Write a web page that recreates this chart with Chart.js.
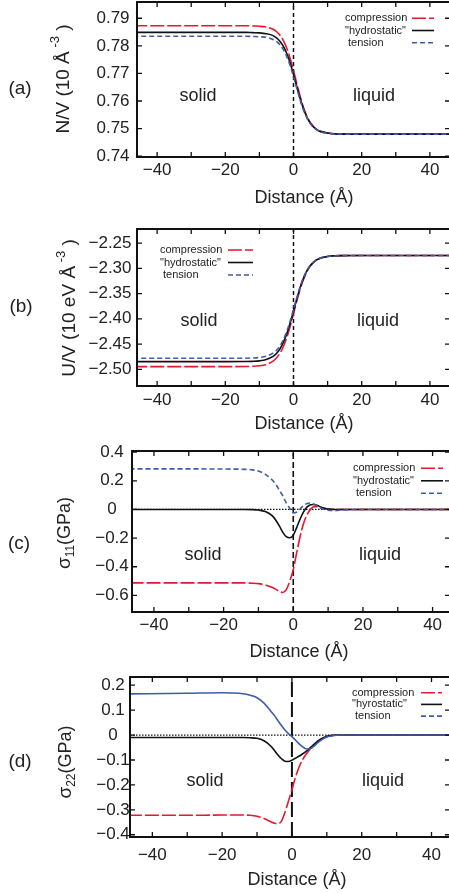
<!DOCTYPE html>
<html>
<head>
<meta charset="utf-8">
<script src="https://cdn.jsdelivr.net/npm/chart.js@4.4.1/dist/chart.umd.min.js"></script>
<style>
html,body{margin:0;padding:0;background:#fff;overflow:hidden;width:449px;height:893px}
.panel{position:absolute;left:0;width:450px}
canvas{display:block}
</style>
</head>
<body>
<div class="panel" style="top:0"><canvas id="pa" width="450" height="230"></canvas></div>
<div class="panel" style="top:215px"><canvas id="pb" width="450" height="230"></canvas></div>
<div class="panel" style="top:430px"><canvas id="pc" width="450" height="235"></canvas></div>
<div class="panel" style="top:645px"><canvas id="pd" width="450" height="248"></canvas></div>
<script>
// ── profile data: distance from the interface (Å) ─────────────────────────────
const distance=[-47,-30,-20,-14,-12,-10,-8,-6,-5,-4,-3,-2,-1,0,1,2,3,4,5,6,7,8,10,12,14,20,30,47];

// (a) number density N/V
const nvCompression=[.7873,.7873,.7873,.7873,.7872,.7871,.7868,.7860,.7852,.7839,.7820,.7792,.7755,.7711,.7662,.7615,.7574,.7543,.7521,.7506,.7496,.7490,.7484,.7481,.7481,.7480,.7480,.7480];
const nvHydrostatic=[.7849,.7849,.7849,.7849,.7848,.7847,.7844,.7837,.7829,.7817,.7799,.7773,.7739,.7696,.7651,.7607,.7569,.7540,.7518,.7504,.7495,.7489,.7484,.7481,.7480,.7480,.7480,.7480];
const nvTension=[.7835,.7835,.7835,.7835,.7834,.7833,.7831,.7823,.7816,.7804,.7787,.7762,.7729,.7688,.7644,.7602,.7565,.7537,.7517,.7503,.7495,.7489,.7483,.7481,.7480,.7480,.7480,.7480];

// (b) energy density U/V
const uvCompression=[-2.4948,-2.4948,-2.4948,-2.4945,-2.4941,-2.4931,-2.4904,-2.4839,-2.4777,-2.4686,-2.4554,-2.4376,-2.4154,-2.3900,-2.3640,-2.3402,-2.3205,-2.3056,-2.2949,-2.2877,-2.2829,-2.2798,-2.2767,-2.2754,-2.2749,-2.2746,-2.2746,-2.2746];
const uvHydrostatic=[-2.4849,-2.4849,-2.4849,-2.4847,-2.4843,-2.4833,-2.4807,-2.4745,-2.4686,-2.4598,-2.4473,-2.4303,-2.4090,-2.3848,-2.3600,-2.3372,-2.3185,-2.3042,-2.2940,-2.2871,-2.2826,-2.2796,-2.2766,-2.2754,-2.2749,-2.2746,-2.2746,-2.2746];
const uvTension=[-2.4782,-2.4782,-2.4782,-2.4780,-2.4776,-2.4766,-2.4742,-2.4681,-2.4624,-2.4539,-2.4418,-2.4254,-2.4047,-2.3813,-2.3573,-2.3352,-2.3171,-2.3032,-2.2934,-2.2867,-2.2823,-2.2794,-2.2765,-2.2753,-2.2749,-2.2746,-2.2746,-2.2746];

// (c) stress sigma_11 (GPa)
const s11Compression=[-.513,-.513,-.513,-.513,-.515,-.518,-.528,-.545,-.558,-.572,-.580,-.560,-.500,-.420,-.300,-.185,-.095,-.035,.002,.020,.020,.013,.003,0,0,0,0,0];
const s11Hydrostatic=[0,0,0,0,-.001,-.004,-.015,-.045,-.075,-.115,-.160,-.190,-.198,-.180,-.125,-.065,-.015,.018,.033,.035,.027,.015,.003,0,0,0,0,0];
const s11Tension=[.283,.283,.282,.280,.277,.268,.245,.205,.175,.135,.095,.045,.008,-.025,-.018,.005,.028,.042,.045,.036,.022,.008,-.006,-.008,-.004,0,0,0];

// (d) stress sigma_22 (GPa)
const s22Compression=[-.322,-.322,-.321,-.321,-.322,-.326,-.335,-.348,-.354,-.355,-.345,-.310,-.265,-.220,-.170,-.130,-.100,-.078,-.060,-.043,-.030,-.019,-.006,-.001,0,0,0,0];
const s22Hydrostatic=[-.010,-.010,-.010,-.010,-.011,-.013,-.023,-.045,-.062,-.080,-.095,-.105,-.106,-.101,-.093,-.085,-.076,-.066,-.054,-.041,-.029,-.018,-.005,-.001,0,0,0,0];
const s22Tension=[.165,.168,.170,.166,.160,.150,.128,.095,.078,.058,.038,.020,.006,-.006,-.020,-.034,-.046,-.055,-.056,-.048,-.036,-.024,-.008,-.002,0,0,0,0];

// ── ticks and labels ──────────────────────────────────────────────────────────
const xTicks=[-40,-30,-20,-10,0,10,20,30,40];
const xTickLabels=['-40','','-20','','0','','20','','40'];
const nvTicks=[0.74,0.75,0.76,0.77,0.78,0.79];
const nvTickLabels=['0.74','0.75','0.76','0.77','0.78','0.79'];
const uvTicks=[-2.50,-2.45,-2.40,-2.35,-2.30,-2.25];
const uvTickLabels=['-2.50','-2.45','-2.40','-2.35','-2.30','-2.25'];
const s11Ticks=[-0.6,-0.4,-0.2,0,0.2,0.4];
const s11TickLabels=['-0.6','-0.4','-0.2','0','0.2','0.4'];
const s22Ticks=[-0.4,-0.3,-0.2,-0.1,0,0.1,0.2];
const s22TickLabels=['-0.4','-0.3','-0.2','-0.1','0','0.1','0.2'];
const interfaceAt=[0];
const seriesNames=['compression','"hydrostatic"',' tension'];
const seriesNamesD=['compression','"hyrostatic"',' tension'];

const FONT='"Liberation Sans", Arial, sans-serif';
const INK='#222';
const RED='#e3192d', BLACK='#111', BLUE='#3d5dac';
const COLORS=[RED,BLACK,BLUE];
const DASH_COMP=[14,3], DASH_TENS=[5,3];
const minus=s=>s.replace('-','\u2212');

const PANELS=[
  {id:'pa',tag:'(a)',series:[nvCompression,nvHydrostatic,nvTension],names:seriesNames,
   xMin:-45.9,xMax:45.9,yMin:0.7397,yMax:0.7959,yTicks:nvTicks,yLabels:nvTickLabels,
   pad:{left:137,top:2,right:0,bottom:73},dash:[DASH_COMP,[],DASH_TENS],legendDash:[DASH_COMP,[],DASH_TENS],
   divDash:[4,3],divWidth:1.5,zero:false,
   yLabelX:113,xLabelDy:13,xTitle:[304,198],yTitle:[64,79],tagAt:[20,89],
   yTitleParts:[{t:'N/V (10 Å',size:19},{t:' -3',size:13,dy:-9},{t:' )',size:19}],
   solid:[198,96],liquid:[374,96],legend:{x:345,y:18.3,dy:12.2,x1:412,x2:434}},
  {id:'pb',tag:'(b)',series:[uvCompression,uvHydrostatic,uvTension],names:seriesNames,
   xMin:-45.9,xMax:45.9,yMin:-2.5331,yMax:-2.2222,yTicks:uvTicks,yLabels:uvTickLabels,
   pad:{left:137,top:14,right:0,bottom:59},dash:[DASH_COMP,[],DASH_TENS],legendDash:[DASH_COMP,[],DASH_TENS],
   divDash:[4,3],divWidth:1.5,zero:false,
   yLabelX:110,xLabelDy:14,xTitle:[304,209],yTitle:[70,93],tagAt:[21,92],
   yTitleParts:[{t:'U/V (10 eV Å',size:19},{t:' -3',size:13,dy:-9},{t:' )',size:19}],
   solid:[199,106],liquid:[378,106],legend:{x:160,y:35,dy:12.5,x1:228,x2:253}},
  {id:'pc',tag:'(c)',series:[s11Compression,s11Hydrostatic,s11Tension],names:seriesNames,
   xMin:-46.3,xMax:45,yMin:-0.716,yMax:0.408,yTicks:s11Ticks,yLabels:s11TickLabels,
   pad:{left:132,top:21,right:0,bottom:53},dash:[DASH_COMP,[],DASH_TENS],legendDash:[DASH_COMP,[],DASH_TENS],
   divDash:[6,3],divWidth:1.6,zero:true,
   yLabelX:112,xLabelDy:13,xTitle:[299,222],yTitle:[65,103],tagAt:[19,114],
   yTitleParts:[{t:'σ',size:19},{t:'11',size:12,dy:6},{t:'(GPa)',size:18}],
   solid:[203,125],liquid:[380,125],legend:{x:353,y:38.3,dy:12.5,x1:421,x2:443}},
  {id:'pd',tag:'(d)',series:[s22Compression,s22Hydrostatic,s22Tension],names:seriesNamesD,
   xMin:-46.4,xMax:45.3,yMin:-0.409,yMax:0.233,yTicks:s22Ticks,yLabels:s22TickLabels,
   pad:{left:130,top:32,right:0,bottom:56},dash:[DASH_COMP,[],[]],legendDash:[DASH_COMP,[],DASH_TENS],
   divDash:[15,5],divWidth:2,zero:true,
   yLabelX:113,xLabelDy:18,xTitle:[297,235],yTitle:[66,117],tagAt:[20,117],
   yTitleParts:[{t:'σ',size:19},{t:'22',size:12,dy:6},{t:'(GPa)',size:18}],
   solid:[205,136],liquid:[383,136],legend:{x:352,y:47.7,dy:11.7,x1:421,x2:442}}
];

// rich text: runs of different size / baseline, optionally rotated
function richText(ctx,parts,cx,cy,rotate){
  ctx.save();
  ctx.translate(cx,cy);
  if(rotate) ctx.rotate(-Math.PI/2);
  let w=0;
  parts.forEach(pt=>{ctx.font=pt.size+'px '+FONT;pt.w=ctx.measureText(pt.t).width;w+=pt.w;});
  let x=-w/2;
  ctx.textAlign='left';ctx.textBaseline='middle';
  parts.forEach(pt=>{ctx.font=pt.size+'px '+FONT;ctx.fillText(pt.t,x,pt.dy||0);x+=pt.w;});
  ctx.restore();
}
function text(ctx,t,x,y,size,align){
  ctx.font=size+'px '+FONT;ctx.textAlign=align||'center';ctx.textBaseline='middle';
  ctx.fillText(t,x,y);
}

// frame, inward ticks, tick labels, titles and key drawn over the plot
const framePlugin={
  id:'frame',
  afterDraw(chart,args,o){
    const p=o.panel;
    const {ctx,chartArea:a}=chart;
    const xs=chart.scales.x, ys=chart.scales.y;
    ctx.save();
    ctx.strokeStyle=BLACK;ctx.fillStyle=INK;ctx.setLineDash([]);
    ctx.lineWidth=1.3;
    ctx.beginPath();
    xTicks.forEach(v=>{
      const px=xs.getPixelForValue(v);
      ctx.moveTo(px,a.bottom);ctx.lineTo(px,a.bottom-5);
      ctx.moveTo(px,a.top);ctx.lineTo(px,a.top+5);
    });
    p.yTicks.forEach(v=>{
      const py=ys.getPixelForValue(v);
      ctx.moveTo(a.left,py);ctx.lineTo(a.left+5,py);
      ctx.moveTo(a.right,py);ctx.lineTo(a.right-5,py);
    });
    ctx.stroke();
    ctx.lineWidth=2;
    ctx.beginPath();
    ctx.moveTo(a.right,a.top);ctx.lineTo(a.left,a.top);ctx.lineTo(a.left,a.bottom);ctx.lineTo(a.right,a.bottom);
    ctx.stroke();

    // tick labels
    xTicks.forEach((v,i)=>{
      if(xTickLabels[i]) text(ctx,minus(xTickLabels[i]),xs.getPixelForValue(v),a.bottom+p.xLabelDy,17);
    });
    p.yTicks.forEach((v,i)=>text(ctx,minus(p.yLabels[i]),p.yLabelX,ys.getPixelForValue(v),17));

    // titles
    text(ctx,'Distance (Å)',p.xTitle[0],p.xTitle[1],18);
    richText(ctx,p.yTitleParts,p.yTitle[0],p.yTitle[1],true);
    text(ctx,p.tag,p.tagAt[0],p.tagAt[1],19);
    text(ctx,'solid',p.solid[0],p.solid[1],18);
    text(ctx,'liquid',p.liquid[0],p.liquid[1],18);

    // key
    const L=p.legend;
    p.names.forEach((n,i)=>{
      const y=L.y+i*L.dy;
      text(ctx,n,L.x,y,11,'left');
      ctx.strokeStyle=COLORS[i];ctx.lineWidth=1.6;ctx.setLineDash(p.legendDash[i]);
      ctx.beginPath();ctx.moveTo(L.x1,y);ctx.lineTo(L.x2,y);ctx.stroke();
    });
    ctx.restore();
  }
};

function buildPanel(p){
  const sets=p.series.map((s,i)=>({
    label:p.names[i],
    data:distance.map((x,k)=>({x,y:s[k]})),
    borderColor:COLORS[i],borderWidth:1.6,borderDash:p.dash[i],
    pointRadius:0,fill:false,cubicInterpolationMode:'monotone',order:3-i
  }));
  // interface position
  sets.push({label:'interface',data:[{x:interfaceAt[0],y:p.yMin},{x:interfaceAt[0],y:p.yMax}],
    borderColor:BLACK,borderWidth:p.divWidth,borderDash:p.divDash,pointRadius:0,fill:false,order:5});
  if(p.zero){
    sets.push({label:'zero',data:[{x:p.xMin,y:0},{x:p.xMax,y:0}],
      borderColor:BLACK,borderWidth:1.3,borderDash:[1.5,1.5],pointRadius:0,fill:false,order:6});
  }
  new Chart(document.getElementById(p.id),{
    type:'line',
    data:{datasets:sets},
    options:{
      responsive:false,animation:false,
      layout:{padding:p.pad},
      plugins:{legend:{display:false},tooltip:{enabled:false},frame:{panel:p}},
      scales:{
        x:{type:'linear',min:p.xMin,max:p.xMax,display:false},
        y:{type:'linear',min:p.yMin,max:p.yMax,display:false}
      }
    },
    plugins:[framePlugin]
  });
}
PANELS.forEach(buildPanel);
</script>
</body>
</html>
